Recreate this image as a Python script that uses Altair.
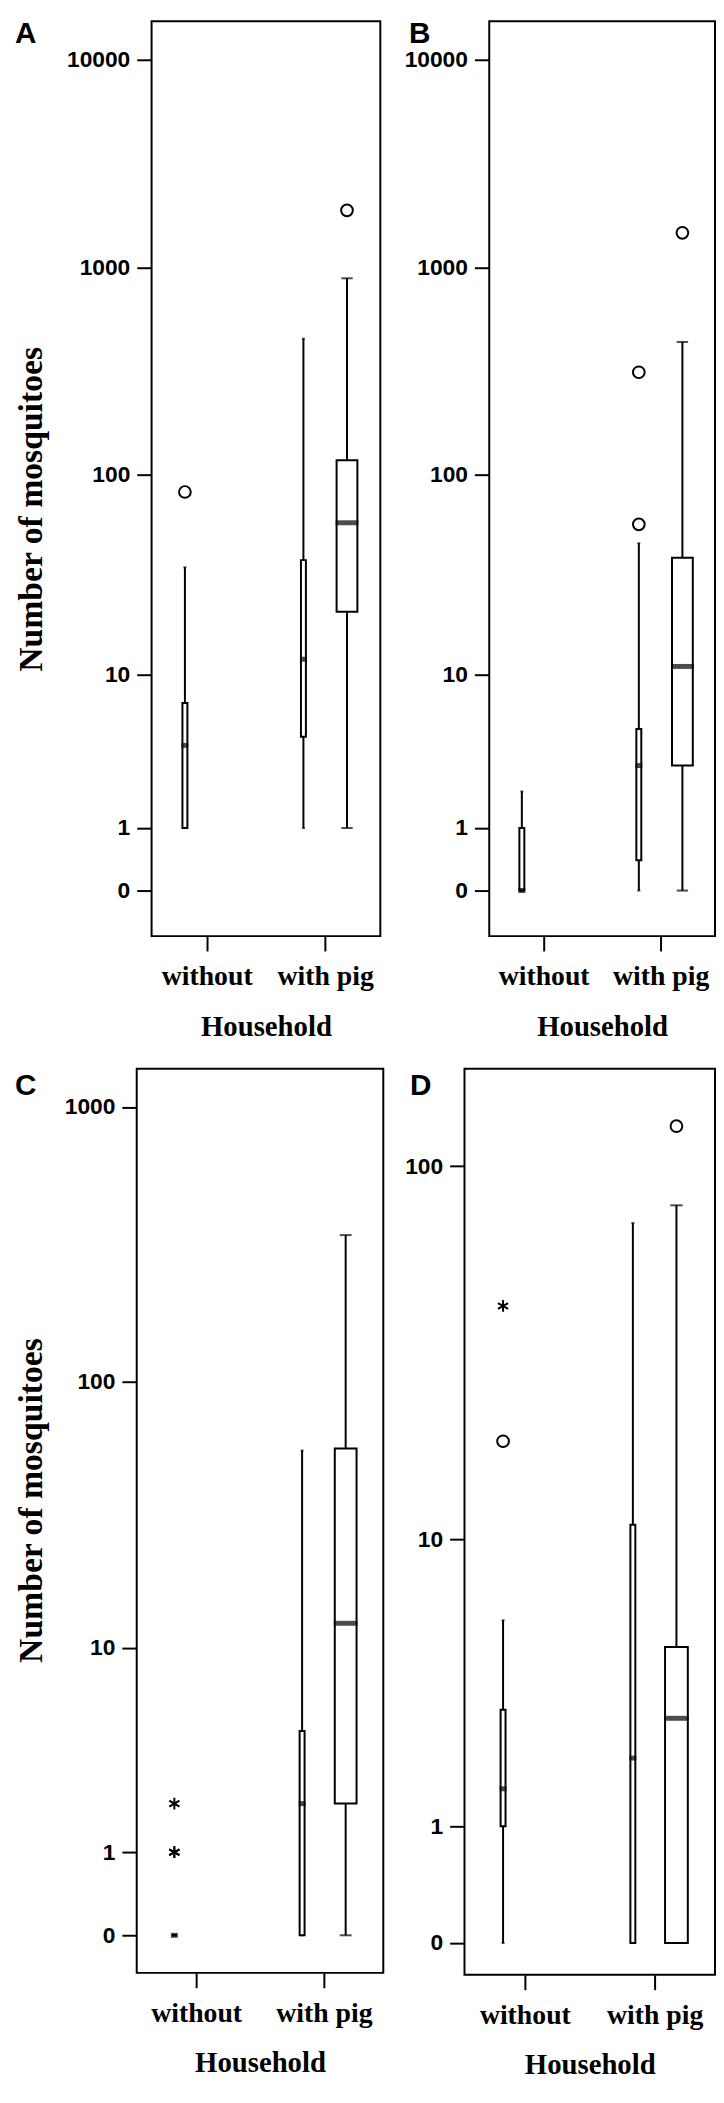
import altair as alt
import pandas as pd

# ---------------- data ----------------
box_panel = ["A", "A", "A", "B", "B", "B", "C", "C", "C", "D", "D", "D"]
box_house = ["without", "with pig", "with pig"] * 4
box_group = ["1", "1", "2"] * 4
box_lo = [1, 1, 1, 0, 0, 0, 0, 0, 0, 0, 0, 0]
box_q1 = [1, 4.5, 21, 0, 0.4, 3, 0, 0, 2, 1, 0, 0]
box_med = [4, 12, 58, 0, 3, 11, 0, 2, 12.5, 1.5, 2, 2.8]
box_q3 = [7, 38, 117, 1, 5, 39, 0, 4.5, 57, 3, 11, 4.8]
box_hi = [35, 453, 886, 2, 46, 437, 0, 56, 343, 5.8, 71, 79]

out_panel = ["A", "A", "B", "B", "B", "C", "C", "C", "D", "D", "D"]
out_house = ["without", "with pig", "with pig", "with pig", "with pig",
             "without", "without", "without", "without", "without", "with pig"]
out_group = ["1", "2", "1", "1", "2", "1", "1", "1", "1", "1", "2"]
out_value = [82, 1883, 57, 312, 1468, 2, 1, 1, 43, 18.7, 127]
out_kind = ["circle", "circle", "circle", "circle", "circle",
            "star", "star", "star", "star", "circle", "circle"]

households = ["without", "with pig"]
groups = ["1", "2"]
y_title = "Number of mosquitoes"
x_title = "Household"

boxes = pd.DataFrame({"panel": box_panel, "household": box_house, "group": box_group,
                      "lo": box_lo, "q1": box_q1, "med": box_med, "q3": box_q3, "hi": box_hi})
outl = pd.DataFrame({"panel": out_panel, "household": out_house, "group": out_group,
                     "value": out_value, "kind": out_kind})

STAR = "M0,-1L0,1M-0.87,-0.5L0.87,0.5M-0.87,0.5L0.87,-0.5"
SANS = "Liberation Sans, Arial, sans-serif"
SERIF = "Liberation Serif, Times New Roman, serif"


def make_panel(letter, width, height, domain, ticks, off, wide, lab_x, lab_y, ytitle_pos):
    b = boxes[boxes["panel"] == letter]
    o = outl[outl["panel"] == letter]
    xenc = alt.X("household:N",
                 scale=alt.Scale(type="point", domain=households, padding=0.465),
                 axis=alt.Axis(title=x_title, labelAngle=0))
    xo = alt.XOffset("group:N",
                     scale=alt.Scale(type="point", domain=groups, range=[-off, off], padding=0))
    ysc = alt.Scale(type="symlog", constant=1, domain=domain, nice=False, zero=False)
    yax = alt.Axis(values=ticks, format="d", title=None)

    def Y(f):
        return alt.Y(f"{f}:Q", scale=ysc, axis=yax)

    def S(r1, r2):
        return alt.Size("group:O", scale=alt.Scale(domain=groups, range=[r1, r2]), legend=None)

    base = alt.Chart(b)
    whisk = base.mark_rule(color="black", strokeWidth=2).encode(
        x=xenc, xOffset=xo, y=Y("lo"), y2=alt.Y2("hi:Q"))
    cap_lo = base.mark_tick(color="black", thickness=2).encode(
        x=xenc, xOffset=xo, y=Y("lo"), size=S(3, wide * 0.5))
    cap_hi = base.mark_tick(color="black", thickness=2).encode(
        x=xenc, xOffset=xo, y=Y("hi"), size=S(3, wide * 0.5))
    box = base.mark_bar(fill="white", stroke="black", strokeWidth=2).encode(
        x=xenc, xOffset=xo, y=Y("q1"), y2=alt.Y2("q3:Q"), size=S(5, wide - 2))
    medn = base.mark_tick(color="black", thickness=5).encode(
        x=xenc, xOffset=xo, y=Y("med"), size=S(7, wide))
    pts = alt.Chart(o).mark_point(filled=False, color="black", strokeWidth=2, size=140, opacity=1).encode(
        x=xenc, xOffset=xo, y=Y("value"),
        shape=alt.Shape("kind:N", scale=alt.Scale(domain=["circle", "star"], range=["circle", STAR]),
                        legend=None))
    lab = alt.Chart(pd.DataFrame({"t": [letter]})).mark_text(
        font=SANS, fontSize=30, fontWeight="bold", color="black", align="left", baseline="alphabetic"
    ).encode(text="t:N", x=alt.value(lab_x), y=alt.value(lab_y))
    layers = [whisk, cap_lo, cap_hi, box, medn, pts, lab]
    if ytitle_pos:
        ttl = alt.Chart(pd.DataFrame({"t": [y_title]})).mark_text(
            font=SERIF, fontSize=34, fontWeight="bold", color="black", angle=270,
            align="center", baseline="alphabetic"
        ).encode(text="t:N", x=alt.value(ytitle_pos[0]), y=alt.value(ytitle_pos[1]))
        layers.append(ttl)
    return alt.layer(*layers).resolve_scale(size="independent").properties(width=width, height=height)


def spacer():
    return alt.Chart(pd.DataFrame({"v": [0]})).mark_point(opacity=0).encode(
        x=alt.value(0), y=alt.value(0)
    ).properties(width=1, height=1, view=alt.ViewBackground(strokeOpacity=0))


A = make_panel("A", 231, 924, [-0.657, 15345], [0, 1, 10, 100, 1000, 10000], 22, 23,
               -138, 22, (-111, 493))
B = make_panel("B", 228, 924, [-0.657, 15345], [0, 1, 10, 100, 1000, 10000], 22, 23,
               -81, 22, None)
C = make_panel("C", 249, 913, [-0.368, 1376], [0, 1, 10, 100, 1000], 24, 24,
               -123, 26, (-96, 436))
D = make_panel("D", 253, 915, [-0.208, 179], [0, 1, 10, 100], 25, 25,
               -55, 26, None)

row1 = alt.hconcat(spacer(), alt.hconcat(A, B, spacing=22), spacing=0)
row2 = alt.hconcat(spacer(), alt.hconcat(C, D, spacing=19), spacing=0)

chart = alt.vconcat(row1, row2, spacing=24).properties(
    padding=0
).configure(
    background="white"
).configure_view(
    stroke="black", strokeWidth=2
).configure_axis(
    grid=False, domain=False, ticks=True, tickColor="black", tickWidth=2, tickSize=15,
    labelColor="black", titleColor="black"
).configure_axisY(
    labelFont=SANS, labelFontSize=23, labelFontWeight="bold", labelPadding=7
).configure_axisX(
    labelFont=SERIF, labelFontSize=28, labelFontWeight="bold", labelPadding=12,
    titleFont=SERIF, titleFontSize=29, titleFontWeight="bold", titlePadding=22
)

chart.save("out.html", embed_options={"renderer": "svg", "actions": False})
